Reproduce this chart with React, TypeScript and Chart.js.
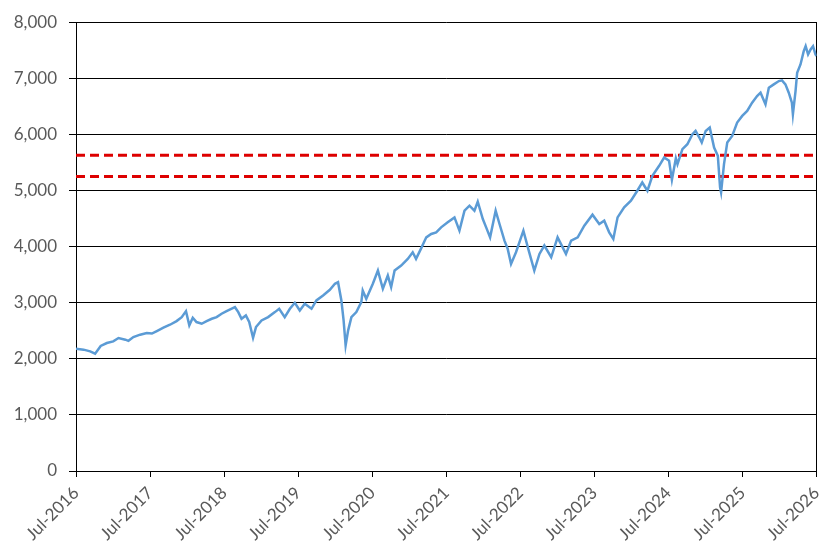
import { useEffect, useRef } from 'react'
import { Chart, registerables } from 'chart.js'

Chart.register(...registerables)

// index level (roughly every 2-4 weeks, more points around the sell-offs)
const dates = [
  '2016-07-01', '2016-08-08', '2016-09-10', '2016-10-04', '2016-11-01', '2016-12-01',
  '2017-01-02', '2017-01-28', '2017-03-01', '2017-03-16', '2017-04-10', '2017-05-13',
  '2017-06-15', '2017-07-10', '2017-08-04', '2017-09-06', '2017-10-08', '2017-11-10',
  '2017-12-05', '2017-12-26', '2018-01-12', '2018-01-29', '2018-02-17', '2018-03-12',
  '2018-04-06', '2018-05-01', '2018-05-25', '2018-06-19', '2018-07-13', '2018-08-24',
  '2018-09-10', '2018-09-26', '2018-10-17', '2018-11-03', '2018-11-22', '2018-12-06',
  '2019-01-03', '2019-02-05', '2019-03-08', '2019-03-29', '2019-04-26', '2019-05-21',
  '2019-06-15', '2019-07-09', '2019-08-03', '2019-09-06', '2019-09-30', '2019-11-02',
  '2019-12-05', '2019-12-30', '2020-01-15', '2020-02-01', '2020-02-12', '2020-02-22',
  '2020-03-04', '2020-03-20', '2020-04-14', '2020-05-08', '2020-05-15', '2020-06-02',
  '2020-07-04', '2020-07-29', '2020-08-23', '2020-09-17', '2020-10-03', '2020-10-20',
  '2020-11-22', '2020-12-24', '2021-01-18', '2021-02-04', '2021-02-28', '2021-03-24',
  '2021-04-18', '2021-05-12', '2021-06-06', '2021-07-08', '2021-08-11', '2021-09-05',
  '2021-09-30', '2021-10-24', '2021-11-18', '2021-12-04', '2021-12-29', '2022-01-15',
  '2022-02-04', '2022-03-01', '2022-03-20', '2022-04-14', '2022-04-30', '2022-05-16',
  '2022-06-10', '2022-07-16', '2022-08-12', '2022-09-09', '2022-10-04', '2022-10-28',
  '2022-12-01', '2023-01-02', '2023-02-13', '2023-03-08', '2023-04-10', '2023-05-12',
  '2023-06-22', '2023-07-25', '2023-08-19', '2023-09-13', '2023-10-03', '2023-10-24',
  '2023-11-26', '2023-12-29', '2024-01-30', '2024-02-24', '2024-03-19', '2024-04-13',
  '2024-05-16', '2024-06-10', '2024-07-04', '2024-07-18', '2024-08-07', '2024-08-15',
  '2024-09-09', '2024-10-03', '2024-10-28', '2024-11-13', '2024-12-01', '2024-12-13',
  '2025-01-02', '2025-01-22', '2025-02-13', '2025-03-01', '2025-03-12', '2025-03-17',
  '2025-04-01', '2025-04-17', '2025-05-11', '2025-06-05', '2025-06-30', '2025-07-24',
  '2025-08-18', '2025-09-12', '2025-09-29', '2025-10-23', '2025-11-09', '2025-12-03',
  '2025-12-28', '2026-01-13', '2026-01-30', '2026-02-16', '2026-03-01', '2026-03-06',
  '2026-03-19', '2026-03-27', '2026-04-13', '2026-04-29', '2026-05-08', '2026-05-20',
  '2026-06-02', '2026-06-14', '2026-06-26', '2026-07-01',
]

const closes = [
  2181, 2163, 2133, 2092, 2230, 2281,
  2311, 2370, 2341, 2320, 2388, 2430,
  2459, 2450, 2495, 2554, 2607, 2672,
  2743, 2850, 2596, 2732, 2655, 2625,
  2672, 2714, 2743, 2803, 2850, 2920,
  2832, 2714, 2773, 2655, 2376, 2566,
  2684, 2743, 2832, 2892, 2743, 2892,
  2999, 2862, 2981, 2892, 3040, 3129,
  3230, 3337, 3365, 3040, 2684, 2240,
  2507, 2743, 2832, 3010, 3218, 3070,
  3337, 3573, 3248, 3484, 3277, 3573,
  3662, 3781, 3899, 3781, 3959, 4165,
  4225, 4254, 4343, 4432, 4521, 4284,
  4640, 4729, 4640, 4800, 4492, 4343,
  4165, 4640, 4403, 4107, 3959, 3692,
  3899, 4284, 3929, 3573, 3870, 4018,
  3810, 4165, 3870, 4107, 4165, 4373,
  4569, 4403, 4462, 4254, 4136, 4521,
  4699, 4818, 4996, 5143, 4996, 5262,
  5440, 5588, 5529, 5190, 5575, 5470,
  5737, 5825, 6003, 6062, 5944, 5855,
  6062, 6121, 5766, 5618, 5055, 4966,
  5470, 5855, 5973, 6210, 6329, 6418,
  6565, 6684, 6743, 6536, 6832, 6892,
  6951, 6963, 6892, 6743, 6565, 6359,
  6773, 7099, 7247, 7484, 7573, 7425,
  7514, 7573, 7425, 7400,
]

// the two red dashed reference levels
const upperLevel = 5630
const lowerLevel = 5250

const axisStart = '2016-07-01'
const axisEnd = '2026-07-01'
const yMax = 8000
const yStep = 1000

// months since Jul-2016
function toMonths(d: string) {
  const [y, m, day] = d.split('-').map(Number)
  return (y - 2016) * 12 + (m - 7) + (day - 1) / 30.44
}

const monthNames = ['Jan', 'Feb', 'Mar', 'Apr', 'May', 'Jun', 'Jul', 'Aug', 'Sep', 'Oct', 'Nov', 'Dec']

export default function App() {
  const chartRef = useRef<HTMLCanvasElement | null>(null)

  useEffect(() => {
    if (!chartRef.current) return
    const ctx = chartRef.current.getContext('2d')
    if (!ctx) return

    Chart.defaults.font.family = 'Lato'

    const xMin = toMonths(axisStart)
    const xMax = toMonths(axisEnd)

    const chart = new Chart(ctx, {
      type: 'line',
      data: {
        datasets: [
          {
            label: 'Index',
            data: dates.map((d, i) => ({ x: toMonths(d), y: closes[i] })),
            borderColor: '#5B9BD5',
            borderWidth: 2.5,
            pointRadius: 0,
            tension: 0,
          },
          {
            label: 'Upper',
            data: [{ x: xMin, y: upperLevel }, { x: xMax, y: upperLevel }],
            borderColor: '#DD0000',
            borderWidth: 3,
            borderDash: [9, 5],
            pointRadius: 0,
          },
          {
            label: 'Lower',
            data: [{ x: xMin, y: lowerLevel }, { x: xMax, y: lowerLevel }],
            borderColor: '#DD0000',
            borderWidth: 3,
            borderDash: [9, 5],
            pointRadius: 0,
          },
        ],
      },
      options: {
        animation: false,
        responsive: true,
        maintainAspectRatio: false,
        layout: { padding: { top: 21, right: 19, bottom: 0, left: 0 } },
        plugins: {
          legend: { display: false },
          tooltip: { enabled: false },
        },
        scales: {
          x: {
            type: 'linear',
            min: xMin,
            max: xMax,
            afterFit: (s: any) => { s.height = 88 },
            ticks: {
              stepSize: 12,
              autoSkip: false,
              maxRotation: 45,
              minRotation: 45,
              padding: 6,
              color: '#595959',
              font: { size: 17 },
              callback: (v: any) => {
                const m = Number(v)
                return `${monthNames[(6 + m) % 12]}-${2016 + Math.floor((6 + m) / 12)}`
              },
            },
            grid: {
              drawOnChartArea: false,
              tickColor: '#000',
              tickLength: 6,
              lineWidth: 1,
            },
            border: { color: '#000' },
          },
          y: {
            min: 0,
            max: yMax,
            afterFit: (s: any) => { s.width = 76 },
            ticks: {
              stepSize: yStep,
              padding: 12,
              color: '#595959',
              font: { size: 17 },
              callback: (v: any) => Number(v).toLocaleString('en-US'),
            },
            grid: {
              color: '#000',
              tickColor: '#000',
              tickLength: 7,
              lineWidth: 1,
            },
            border: { color: '#000' },
          },
          // plain right-hand frame line, no labels
          yRight: {
            position: 'right',
            min: 0,
            max: yMax,
            afterFit: (s: any) => { s.width = 0 },
            ticks: { display: false },
            grid: { display: false },
            border: { color: '#000' },
          },
        },
      },
    })

    return () => {
      chart.destroy()
    }
  }, [])

  return (
    <div style={{ position: 'fixed', left: 0, top: 0, width: 837, height: 559, background: '#fff' }}>
      <canvas ref={chartRef} />
    </div>
  )
}
